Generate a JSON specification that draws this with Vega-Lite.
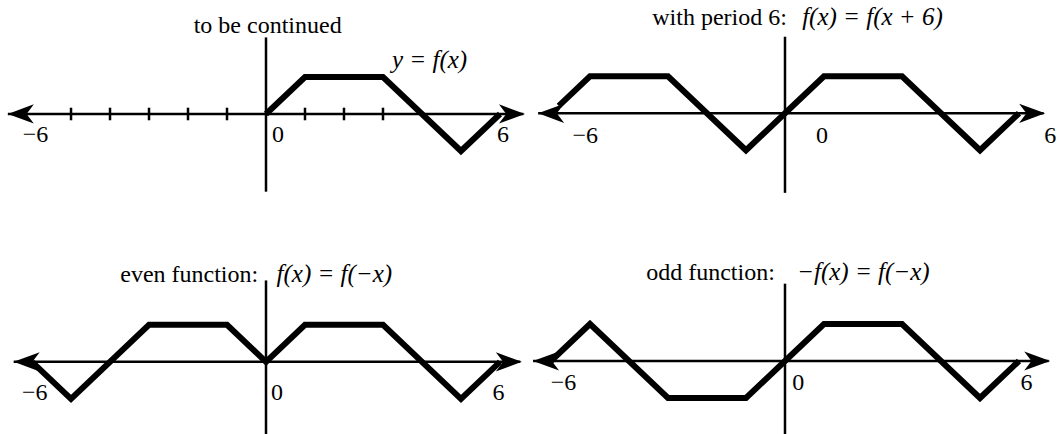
{
  "$schema": "https://vega.github.io/schema/vega-lite/v6.json",
  "padding": 0,
  "background": "white",
  "config": {"view": {"stroke": null}},
  "datasets": {
    "curves": [
      {"panel": "A", "i": 0, "x": 0, "y": 0}, {"panel": "A", "i": 1, "x": 1, "y": 1}, {"panel": "A", "i": 2, "x": 3, "y": 1}, {"panel": "A", "i": 3, "x": 5, "y": -1}, {"panel": "A", "i": 4, "x": 6, "y": 0},
      {"panel": "B", "i": 0, "x": -5.8, "y": 0.2}, {"panel": "B", "i": 1, "x": -5, "y": 1}, {"panel": "B", "i": 2, "x": -3, "y": 1}, {"panel": "B", "i": 3, "x": -1, "y": -1}, {"panel": "B", "i": 4, "x": 0, "y": 0}, {"panel": "B", "i": 5, "x": 1, "y": 1}, {"panel": "B", "i": 6, "x": 3, "y": 1}, {"panel": "B", "i": 7, "x": 5, "y": -1}, {"panel": "B", "i": 8, "x": 6, "y": 0},
      {"panel": "C", "i": 0, "x": -6, "y": 0}, {"panel": "C", "i": 1, "x": -5, "y": -1}, {"panel": "C", "i": 2, "x": -3, "y": 1}, {"panel": "C", "i": 3, "x": -1, "y": 1}, {"panel": "C", "i": 4, "x": 0, "y": 0}, {"panel": "C", "i": 5, "x": 1, "y": 1}, {"panel": "C", "i": 6, "x": 3, "y": 1}, {"panel": "C", "i": 7, "x": 5, "y": -1}, {"panel": "C", "i": 8, "x": 6, "y": 0},
      {"panel": "D", "i": 0, "x": -6, "y": 0}, {"panel": "D", "i": 1, "x": -5, "y": 1}, {"panel": "D", "i": 2, "x": -3, "y": -1}, {"panel": "D", "i": 3, "x": -1, "y": -1}, {"panel": "D", "i": 4, "x": 0, "y": 0}, {"panel": "D", "i": 5, "x": 1, "y": 1}, {"panel": "D", "i": 6, "x": 3, "y": 1}, {"panel": "D", "i": 7, "x": 5, "y": -1}, {"panel": "D", "i": 8, "x": 6, "y": 0}
    ],
    "rules": [
      {"panel": "A", "x": -6.62, "y": 0, "x2": 6.6, "y2": 0},
      {"panel": "A", "x": 0, "y": -2.1, "x2": 0, "y2": 2.07},
      {"panel": "A", "x": -5, "y": -0.17, "x2": -5, "y2": 0.17},
      {"panel": "A", "x": -4, "y": -0.17, "x2": -4, "y2": 0.17},
      {"panel": "A", "x": -3, "y": -0.17, "x2": -3, "y2": 0.17},
      {"panel": "A", "x": -2, "y": -0.17, "x2": -2, "y2": 0.17},
      {"panel": "A", "x": -1, "y": -0.17, "x2": -1, "y2": 0.17},
      {"panel": "A", "x": 1, "y": -0.17, "x2": 1, "y2": 0.17},
      {"panel": "A", "x": 2, "y": -0.17, "x2": 2, "y2": 0.17},
      {"panel": "A", "x": 3, "y": -0.17, "x2": 3, "y2": 0.17},
      {"panel": "B", "x": -6.33, "y": 0, "x2": 6.63, "y2": 0},
      {"panel": "B", "x": 0, "y": -2.15, "x2": 0, "y2": 2.07},
      {"panel": "C", "x": -6.47, "y": 0, "x2": 6.52, "y2": 0},
      {"panel": "C", "x": 0, "y": -2.0, "x2": 0, "y2": 2.2},
      {"panel": "D", "x": -6.46, "y": 0, "x2": 6.76, "y2": 0},
      {"panel": "D", "x": 0, "y": -2.0, "x2": 0, "y2": 2.09}
    ],
    "arrows": [
      {"panel": "A", "x": -6.62, "y": 0, "dir": "left"}, {"panel": "A", "x": 6.64, "y": 0, "dir": "right"},
      {"panel": "B", "x": -6.33, "y": 0, "dir": "left"}, {"panel": "B", "x": 6.67, "y": 0, "dir": "right"},
      {"panel": "C", "x": -6.47, "y": 0, "dir": "left"}, {"panel": "C", "x": 6.56, "y": 0, "dir": "right"},
      {"panel": "D", "x": -6.46, "y": 0, "dir": "left"}, {"panel": "D", "x": 6.8, "y": 0, "dir": "right"}
    ],
    "texts": [
      {"panel": "A", "kind": "title", "x": 1.94, "y": 2.19, "text": "to be continued"},
      {"panel": "A", "kind": "math", "x": 3.23, "y": 1.24, "text": "y = f(x)"},
      {"panel": "A", "kind": "label", "x": -5.91, "y": -0.76, "text": "−6"},
      {"panel": "A", "kind": "label", "x": 0.31, "y": -0.76, "text": "0"},
      {"panel": "A", "kind": "label", "x": 6.08, "y": -0.76, "text": "6"},
      {"panel": "B", "kind": "title", "x": 0.05, "y": 2.39, "text": "with period 6:"},
      {"panel": "B", "kind": "math", "x": 0.44, "y": 2.39, "text": "f(x) = f(x + 6)"},
      {"panel": "B", "kind": "label", "x": -5.12, "y": -0.8, "text": "−6"},
      {"panel": "B", "kind": "label", "x": 0.95, "y": -0.8, "text": "0"},
      {"panel": "B", "kind": "label", "x": 6.8, "y": -0.8, "text": "6"},
      {"panel": "C", "kind": "title", "x": -0.2, "y": 2.16, "text": "even function:"},
      {"panel": "C", "kind": "math", "x": 0.27, "y": 2.16, "text": "f(x) = f(−x)"},
      {"panel": "C", "kind": "label", "x": -5.93, "y": -1.02, "text": "−6"},
      {"panel": "C", "kind": "label", "x": 0.28, "y": -1.02, "text": "0"},
      {"panel": "C", "kind": "label", "x": 5.96, "y": -1.02, "text": "6"},
      {"panel": "D", "kind": "title", "x": -0.26, "y": 2.19, "text": "odd function:"},
      {"panel": "D", "kind": "math", "x": 0.31, "y": 2.19, "text": "−f(x) = f(−x)"},
      {"panel": "D", "kind": "label", "x": -5.68, "y": -0.79, "text": "−6"},
      {"panel": "D", "kind": "label", "x": 0.34, "y": -0.79, "text": "0"},
      {"panel": "D", "kind": "label", "x": 6.19, "y": -0.79, "text": "6"}
    ]
  },
  "columns": 2,
  "spacing": 0,
  "bounds": "flush",
  "concat": [
    {
      "width": 529, "height": 217,
      "encoding": {
        "x": {"field": "x", "type": "quantitative", "scale": {"domain": [-6.821, 6.744], "nice": false, "zero": false}, "axis": null},
        "y": {"field": "y", "type": "quantitative", "scale": {"domain": [-2.784, 3.081], "nice": false, "zero": false}, "axis": null}
      },
      "layer": [
        {"data": {"name": "rules"}, "transform": [{"filter": "datum.panel == 'A'"}], "mark": {"type": "rule", "color": "black", "strokeWidth": 2.5}, "encoding": {"x2": {"field": "x2"}, "y2": {"field": "y2"}}},
        {"data": {"name": "curves"}, "transform": [{"filter": "datum.panel == 'A'"}], "mark": {"type": "line", "color": "black", "strokeWidth": 6, "strokeJoin": "miter"}, "encoding": {"order": {"field": "i", "type": "quantitative"}}},
        {"data": {"name": "arrows"}, "transform": [{"filter": "datum.panel == 'A'"}], "mark": {"type": "point", "filled": true, "color": "black", "opacity": 1, "size": 2704, "strokeWidth": 0}, "encoding": {"shape": {"field": "dir", "type": "nominal", "scale": {"domain": ["left", "right"], "range": ["M0,0L1,-0.37L0.72,0L1,0.37Z", "M0,0L-1,-0.37L-0.72,0L-1,0.37Z"]}, "legend": null}}},
        {"data": {"name": "texts"}, "transform": [{"filter": "datum.panel == 'A' && datum.kind == 'label'"}], "mark": {"type": "text", "font": "Liberation Serif", "fontSize": 24, "align": "center", "baseline": "alphabetic", "color": "black"}, "encoding": {"text": {"field": "text"}}},
        {"data": {"name": "texts"}, "transform": [{"filter": "datum.panel == 'A' && datum.kind == 'title'"}], "mark": {"type": "text", "font": "Liberation Serif", "fontSize": 24, "align": "right", "baseline": "alphabetic", "color": "black"}, "encoding": {"text": {"field": "text"}}},
        {"data": {"name": "texts"}, "transform": [{"filter": "datum.panel == 'A' && datum.kind == 'math'"}], "mark": {"type": "text", "font": "Liberation Serif", "fontStyle": "italic", "fontSize": 25, "align": "left", "baseline": "alphabetic", "color": "black"}, "encoding": {"text": {"field": "text"}}}
      ]
    },
    {
      "width": 529, "height": 217,
      "encoding": {
        "x": {"field": "x", "type": "quantitative", "scale": {"domain": [-6.564, 7.0], "nice": false, "zero": false}, "axis": null},
        "y": {"field": "y", "type": "quantitative", "scale": {"domain": [-2.803, 3.062], "nice": false, "zero": false}, "axis": null}
      },
      "layer": [
        {"data": {"name": "rules"}, "transform": [{"filter": "datum.panel == 'B'"}], "mark": {"type": "rule", "color": "black", "strokeWidth": 2.5}, "encoding": {"x2": {"field": "x2"}, "y2": {"field": "y2"}}},
        {"data": {"name": "curves"}, "transform": [{"filter": "datum.panel == 'B'"}], "mark": {"type": "line", "color": "black", "strokeWidth": 6, "strokeJoin": "miter"}, "encoding": {"order": {"field": "i", "type": "quantitative"}}},
        {"data": {"name": "arrows"}, "transform": [{"filter": "datum.panel == 'B'"}], "mark": {"type": "point", "filled": true, "color": "black", "opacity": 1, "size": 2704, "strokeWidth": 0}, "encoding": {"shape": {"field": "dir", "type": "nominal", "scale": {"domain": ["left", "right"], "range": ["M0,0L1,-0.37L0.72,0L1,0.37Z", "M0,0L-1,-0.37L-0.72,0L-1,0.37Z"]}, "legend": null}}},
        {"data": {"name": "texts"}, "transform": [{"filter": "datum.panel == 'B' && datum.kind == 'label'"}], "mark": {"type": "text", "font": "Liberation Serif", "fontSize": 24, "align": "center", "baseline": "alphabetic", "color": "black"}, "encoding": {"text": {"field": "text"}}},
        {"data": {"name": "texts"}, "transform": [{"filter": "datum.panel == 'B' && datum.kind == 'title'"}], "mark": {"type": "text", "font": "Liberation Serif", "fontSize": 24, "align": "right", "baseline": "alphabetic", "color": "black"}, "encoding": {"text": {"field": "text"}}},
        {"data": {"name": "texts"}, "transform": [{"filter": "datum.panel == 'B' && datum.kind == 'math'"}], "mark": {"type": "text", "font": "Liberation Serif", "fontStyle": "italic", "fontSize": 25, "align": "left", "baseline": "alphabetic", "color": "black"}, "encoding": {"text": {"field": "text"}}}
      ]
    },
    {
      "width": 529, "height": 217,
      "encoding": {
        "x": {"field": "x", "type": "quantitative", "scale": {"domain": [-6.821, 6.744], "nice": false, "zero": false}, "axis": null},
        "y": {"field": "y", "type": "quantitative", "scale": {"domain": [-1.951, 3.914], "nice": false, "zero": false}, "axis": null}
      },
      "layer": [
        {"data": {"name": "rules"}, "transform": [{"filter": "datum.panel == 'C'"}], "mark": {"type": "rule", "color": "black", "strokeWidth": 2.5}, "encoding": {"x2": {"field": "x2"}, "y2": {"field": "y2"}}},
        {"data": {"name": "curves"}, "transform": [{"filter": "datum.panel == 'C'"}], "mark": {"type": "line", "color": "black", "strokeWidth": 6, "strokeJoin": "miter"}, "encoding": {"order": {"field": "i", "type": "quantitative"}}},
        {"data": {"name": "arrows"}, "transform": [{"filter": "datum.panel == 'C'"}], "mark": {"type": "point", "filled": true, "color": "black", "opacity": 1, "size": 2704, "strokeWidth": 0}, "encoding": {"shape": {"field": "dir", "type": "nominal", "scale": {"domain": ["left", "right"], "range": ["M0,0L1,-0.37L0.72,0L1,0.37Z", "M0,0L-1,-0.37L-0.72,0L-1,0.37Z"]}, "legend": null}}},
        {"data": {"name": "texts"}, "transform": [{"filter": "datum.panel == 'C' && datum.kind == 'label'"}], "mark": {"type": "text", "font": "Liberation Serif", "fontSize": 24, "align": "center", "baseline": "alphabetic", "color": "black"}, "encoding": {"text": {"field": "text"}}},
        {"data": {"name": "texts"}, "transform": [{"filter": "datum.panel == 'C' && datum.kind == 'title'"}], "mark": {"type": "text", "font": "Liberation Serif", "fontSize": 24, "align": "right", "baseline": "alphabetic", "color": "black"}, "encoding": {"text": {"field": "text"}}},
        {"data": {"name": "texts"}, "transform": [{"filter": "datum.panel == 'C' && datum.kind == 'math'"}], "mark": {"type": "text", "font": "Liberation Serif", "fontStyle": "italic", "fontSize": 25, "align": "left", "baseline": "alphabetic", "color": "black"}, "encoding": {"text": {"field": "text"}}}
      ]
    },
    {
      "width": 529, "height": 217,
      "encoding": {
        "x": {"field": "x", "type": "quantitative", "scale": {"domain": [-6.564, 7.0], "nice": false, "zero": false}, "axis": null},
        "y": {"field": "y", "type": "quantitative", "scale": {"domain": [-1.973, 3.892], "nice": false, "zero": false}, "axis": null}
      },
      "layer": [
        {"data": {"name": "rules"}, "transform": [{"filter": "datum.panel == 'D'"}], "mark": {"type": "rule", "color": "black", "strokeWidth": 2.5}, "encoding": {"x2": {"field": "x2"}, "y2": {"field": "y2"}}},
        {"data": {"name": "curves"}, "transform": [{"filter": "datum.panel == 'D'"}], "mark": {"type": "line", "color": "black", "strokeWidth": 6, "strokeJoin": "miter"}, "encoding": {"order": {"field": "i", "type": "quantitative"}}},
        {"data": {"name": "arrows"}, "transform": [{"filter": "datum.panel == 'D'"}], "mark": {"type": "point", "filled": true, "color": "black", "opacity": 1, "size": 2704, "strokeWidth": 0}, "encoding": {"shape": {"field": "dir", "type": "nominal", "scale": {"domain": ["left", "right"], "range": ["M0,0L1,-0.37L0.72,0L1,0.37Z", "M0,0L-1,-0.37L-0.72,0L-1,0.37Z"]}, "legend": null}}},
        {"data": {"name": "texts"}, "transform": [{"filter": "datum.panel == 'D' && datum.kind == 'label'"}], "mark": {"type": "text", "font": "Liberation Serif", "fontSize": 24, "align": "center", "baseline": "alphabetic", "color": "black"}, "encoding": {"text": {"field": "text"}}},
        {"data": {"name": "texts"}, "transform": [{"filter": "datum.panel == 'D' && datum.kind == 'title'"}], "mark": {"type": "text", "font": "Liberation Serif", "fontSize": 24, "align": "right", "baseline": "alphabetic", "color": "black"}, "encoding": {"text": {"field": "text"}}},
        {"data": {"name": "texts"}, "transform": [{"filter": "datum.panel == 'D' && datum.kind == 'math'"}], "mark": {"type": "text", "font": "Liberation Serif", "fontStyle": "italic", "fontSize": 25, "align": "left", "baseline": "alphabetic", "color": "black"}, "encoding": {"text": {"field": "text"}}}
      ]
    }
  ]
}
